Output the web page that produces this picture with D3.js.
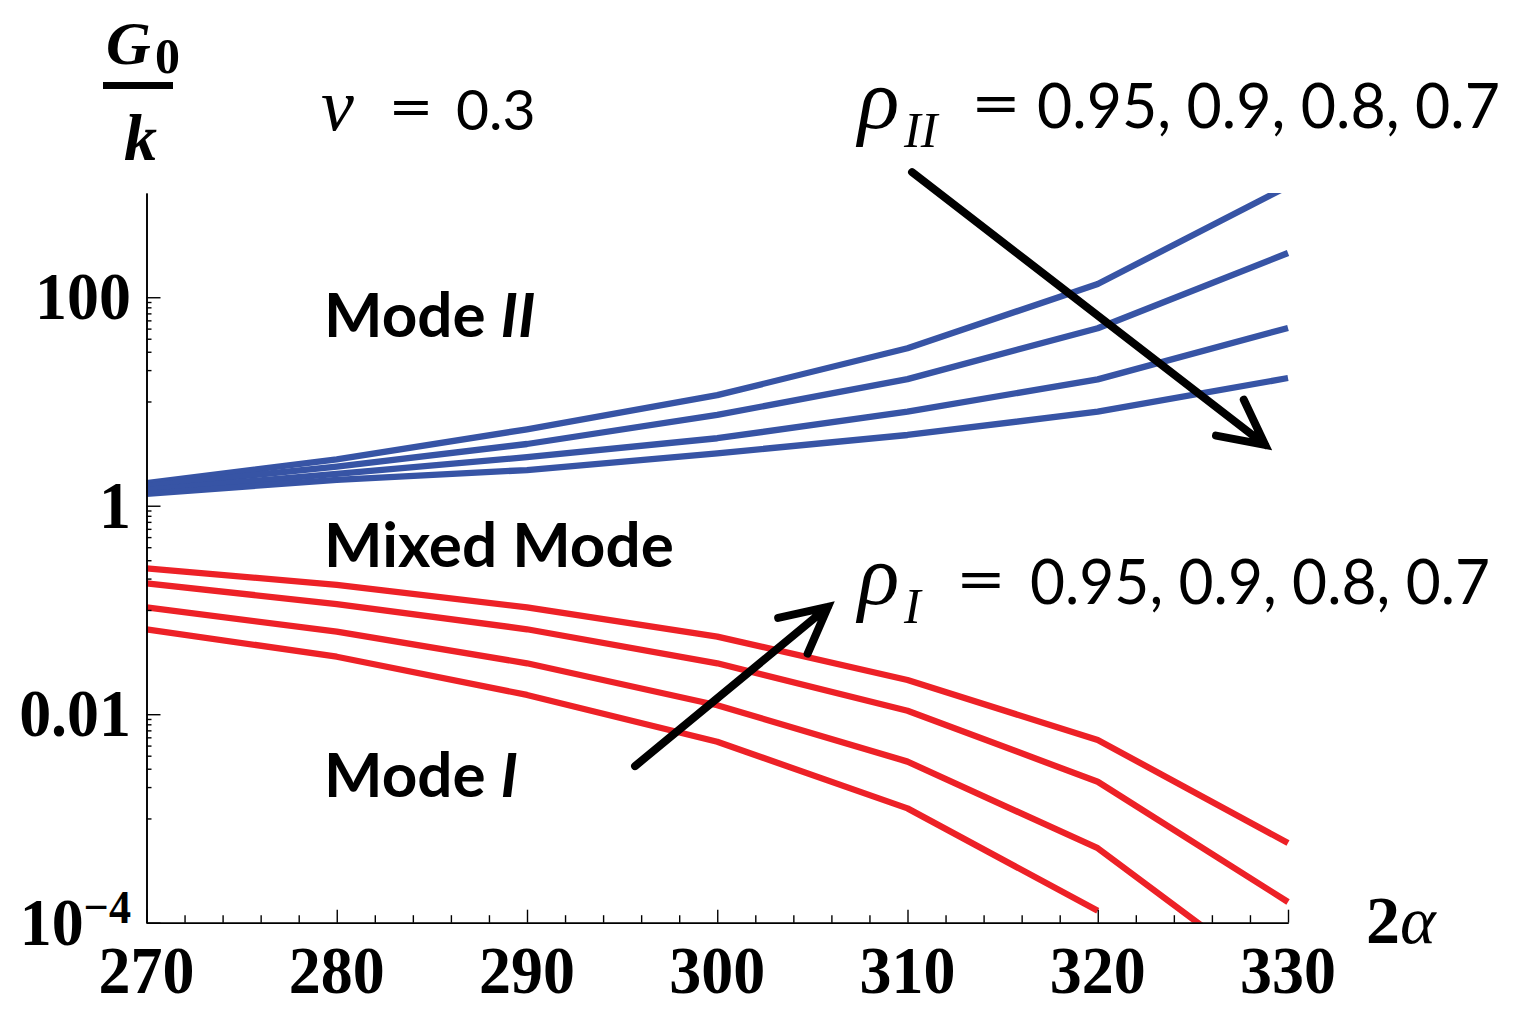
<!DOCTYPE html>
<html>
<head>
<meta charset="utf-8">
<script src="https://cdn.jsdelivr.net/npm/d3@7/dist/d3.min.js"></script>
<style>
  html, body { margin: 0; padding: 0; background: #fff; }
  svg { display: block; }
</style>
</head>
<body>
<script>
// Opening angle 2α (degrees) at which G0/k was evaluated
const angles = [270, 280, 290, 300, 310, 320, 330];

// Mode II boundary, one curve per ρ_II
const rhoII_095 = [1.65, 2.79, 5.41, 11.5, 32.4, 134, 1160];
const rhoII_090 = [1.55, 2.37, 3.91, 7.43, 16.4, 50.4, 266];
const rhoII_080 = [1.42, 2.02, 2.92, 4.44, 7.98, 16.3, 50.7];
const rhoII_070 = [1.30, 1.77, 2.20, 3.18, 4.77, 7.98, 16.8];

// Mode I boundary, one curve per ρ_I (null = no value)
const rhoI_070 = [0.251, 0.174, 0.106, 0.0555, 0.0213, 0.00566, 5.82e-4];
const rhoI_080 = [0.180, 0.114, 0.0653, 0.0308, 0.0108, 0.00225, 1.58e-4];
const rhoI_090 = [0.106, 0.0619, 0.0308, 0.0122, 0.00351, 5.18e-4, 2.26e-5];
const rhoI_095 = [0.0653, 0.0356, 0.0153, 0.00544, 0.00125, 1.30e-4, null];

// Axis ticks
const xMajorTicks = [270, 280, 290, 300, 310, 320, 330];
const xTickLabels = ["270", "280", "290", "300", "310", "320", "330"];
const yMajorTicks = [1e-4, 0.01, 1, 100];
const yTickLabels = ["10", "0.01", "1", "100"];

(function () {
const W = 1519, H = 1011;
const plotL = 146.5, plotR = 1288, plotT = 193, plotB = 922.7;

const svg = d3.select("body").append("svg")
  .attr("width", W).attr("height", H)
  .attr("viewBox", `0 0 ${W} ${H}`);
svg.append("rect").attr("width", W).attr("height", H).attr("fill", "#fff");

const x = d3.scaleLinear().domain([270, 330]).range([plotL, plotR]);
const y = d3.scaleLog().domain([1e-4, 1000]).range([plotB, plotT]);

// minor ticks: every 2 degrees; m×10^(2k-1) below each labelled decade
const xMinor = d3.range(270, 331, 2).filter(v => v % 10 !== 0);
const yMinor = [];
[-3, -1, 1].forEach(e => { for (let m = 1; m <= 9; m++) yMinor.push(m * Math.pow(10, e)); });

const serif = "'Liberation Serif', 'Times New Roman', serif";
const sans = "Lato, 'Open Sans', sans-serif";

// ----- curves -----
svg.append("defs").append("clipPath").attr("id", "plotClip")
  .append("rect").attr("x", plotL - 4).attr("y", plotT)
  .attr("width", plotR - plotL + 8).attr("height", plotB - plotT);

const line = d3.line()
  .defined(d => d.v != null)
  .x(d => x(d.a)).y(d => y(d.v));

const blue = "#3754A5", red = "#ED2127";
const curves = [
  { vals: rhoII_095, color: blue }, { vals: rhoII_090, color: blue },
  { vals: rhoII_080, color: blue }, { vals: rhoII_070, color: blue },
  { vals: rhoI_070, color: red }, { vals: rhoI_080, color: red },
  { vals: rhoI_090, color: red }, { vals: rhoI_095, color: red }
];

const gCurves = svg.append("g").attr("clip-path", "url(#plotClip)");
curves.forEach(c => {
  gCurves.append("path")
    .datum(angles.map((a, i) => ({ a, v: c.vals[i] })))
    .attr("d", line)
    .attr("fill", "none")
    .attr("stroke", c.color)
    .attr("stroke-width", 6.3)
    .attr("stroke-linejoin", "round");
});

// ----- axes -----
function styleAxis(g) {
  g.selectAll("path.domain").attr("stroke", "#000").attr("stroke-width", 1.6);
  g.selectAll(".tick line").attr("stroke", "#000").attr("stroke-width", 1.4);
  g.selectAll(".tick text").remove();
}

svg.append("g").attr("transform", `translate(0,${plotB})`)
  .call(d3.axisBottom(x).tickValues(xMajorTicks).tickSizeInner(-13).tickSizeOuter(0).tickFormat(""))
  .call(styleAxis);
svg.append("g").attr("transform", `translate(0,${plotB})`)
  .call(d3.axisBottom(x).tickValues(xMinor).tickSizeInner(-7.5).tickSizeOuter(0).tickFormat(""))
  .call(styleAxis);
svg.append("g").attr("transform", `translate(${plotL},0)`)
  .call(d3.axisLeft(y).tickValues(yMajorTicks).tickSizeInner(-14).tickSizeOuter(0).tickFormat(""))
  .call(styleAxis);
svg.append("g").attr("transform", `translate(${plotL},0)`)
  .call(d3.axisLeft(y).tickValues(yMinor).tickSizeInner(-5).tickSizeOuter(0).tickFormat(""))
  .call(styleAxis);

// tick labels (bold serif, slightly condensed)
xMajorTicks.forEach((v, i) => {
  svg.append("text")
    .attr("transform", `translate(${x(v)},993) scale(0.94,1)`)
    .attr("text-anchor", "middle")
    .attr("font-family", serif).attr("font-weight", "bold").attr("font-size", 68)
    .text(xTickLabels[i]);
});
yMajorTicks.forEach((v, i) => {
  const t = svg.append("text")
    .attr("transform", `translate(131,${y(v) + 22}) scale(0.94,1)`)
    .attr("text-anchor", "end")
    .attr("font-family", serif).attr("font-weight", "bold").attr("font-size", 68)
    .text(yTickLabels[i]);
  if (v === 1e-4) {
    t.append("tspan").attr("dy", -22).attr("font-size", 47).text("\u22124");
  }
});

// axis titles
const gTitle = svg.append("g").attr("font-family", serif).attr("font-weight", "bold");
gTitle.append("text").attr("x", 106).attr("y", 64).attr("font-size", 62)
  .attr("font-style", "italic").text("G");
gTitle.append("text").attr("x", 155).attr("y", 73).attr("font-size", 50).text("0");
gTitle.append("rect").attr("x", 103).attr("y", 82).attr("width", 70).attr("height", 7).attr("fill", "#000");
gTitle.append("text").attr("x", 124).attr("y", 160).attr("font-size", 66)
  .attr("font-style", "italic").text("k");

gTitle.append("text").attr("x", 1366).attr("y", 943).attr("font-size", 68)
  .text("2").append("tspan").attr("font-style", "italic").attr("font-weight", "normal").text("\u03b1");

// ν = 0.3
svg.append("text").attr("x", 321).attr("y", 130).attr("font-family", serif)
  .attr("font-style", "italic").attr("font-size", 74).text("\u03bd");
svg.append("text").attr("transform", "translate(411,128) scale(1.35,1)").attr("text-anchor", "middle")
  .attr("font-family", sans).attr("font-size", 58).text("=");
svg.append("text").attr("x", 456).attr("y", 130).attr("font-family", sans)
  .attr("font-size", 57).text("0.3");

// ρ labels
function rhoLabel(baseY, sub, subX, eqX, numX, numW) {
  svg.append("text").attr("x", 858).attr("y", baseY).attr("font-family", serif)
    .attr("font-style", "italic").attr("font-size", 86).text("\u03c1");
  svg.append("text").attr("x", subX).attr("y", baseY + 19).attr("font-family", serif)
    .attr("font-style", "italic").attr("font-size", 50).text(sub);
  svg.append("text").attr("transform", `translate(${eqX},${baseY - 2}) scale(1.4,1)`).attr("text-anchor", "middle")
    .attr("font-family", sans).attr("font-size", 62).text("=");
  svg.append("text").attr("x", numX).attr("y", baseY).attr("font-family", sans)
    .attr("font-size", 61).attr("textLength", numW).attr("lengthAdjust", "spacingAndGlyphs")
    .text("0.95, 0.9, 0.8, 0.7");
}
rhoLabel(128, "II", 904, 996, 1037, 463);
rhoLabel(604, "I", 904, 981, 1030, 460);

// region names
const gMode = svg.append("g").attr("font-family", sans).attr("font-weight", "bold").attr("font-size", 62);
gMode.append("text").attr("x", 324).attr("y", 337).text("Mode ")
  .append("tspan").attr("font-style", "italic").text("II");
gMode.append("text").attr("x", 324).attr("y", 567).text("Mixed Mode");
gMode.append("text").attr("x", 324).attr("y", 797).text("Mode ")
  .append("tspan").attr("font-style", "italic").text("I");

// ----- arrows showing increasing ρ -----
function arrow(from, to, headLen) {
  const x0 = x(from[0]), y0 = y(from[1]), x1 = x(to[0]), y1 = y(to[1]);
  const len = Math.hypot(x0 - x1, y0 - y1);
  const ux = (x0 - x1) / len, uy = (y0 - y1) / len;
  const a = 27 * Math.PI / 180, c = Math.cos(a), s = Math.sin(a);
  const b1 = [x1 + headLen * (ux * c - uy * s), y1 + headLen * (ux * s + uy * c)];
  const b2 = [x1 + headLen * (ux * c + uy * s), y1 + headLen * (-ux * s + uy * c)];
  const p = d3.path();
  p.moveTo(x0, y0); p.lineTo(x1, y1);
  p.moveTo(b1[0], b1[1]); p.lineTo(x1, y1); p.lineTo(b2[0], b2[1]);
  svg.append("path").attr("d", p.toString())
    .attr("fill", "none").attr("stroke", "#000").attr("stroke-width", 8)
    .attr("stroke-linecap", "round").attr("stroke-linejoin", "miter");
}
arrow([310.24, 1585], [328.8, 3.83], 50);
arrow([295.68, 0.00318], [305.82, 0.107], 51);
})();
</script>
</body>
</html>
